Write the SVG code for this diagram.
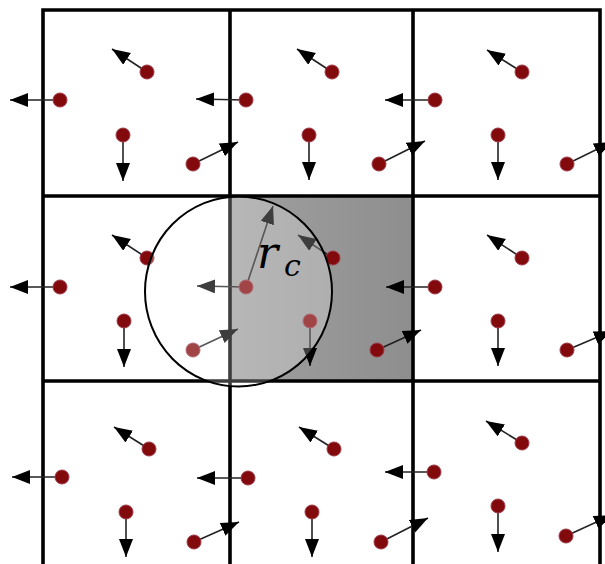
<svg xmlns="http://www.w3.org/2000/svg" width="605" height="564" viewBox="0 0 605 564">
<style>
.grid{stroke:#000;stroke-width:3.6;fill:none;stroke-linecap:square}
.arr{stroke:#222;stroke-width:1.6;fill:none;marker-end:url(#ah)}
.p{fill:#830a0c;stroke:#9c3a48;stroke-width:1}
.lbl{font-family:"DejaVu Serif","Liberation Serif",serif;font-style:italic;fill:#000}
</style>
<defs>
<marker id="ah" markerUnits="userSpaceOnUse" markerWidth="20" markerHeight="16" refX="18" refY="7" orient="auto">
<path d="M0,0 L18,7 L0,14 Z" fill="#000"/>
</marker>
<linearGradient id="gg" x1="0" y1="0" x2="1" y2="0">
<stop offset="0" stop-color="#a0a0a0"/>
<stop offset="1" stop-color="#8e8e8e"/>
</linearGradient>
</defs>
<rect width="605" height="564" fill="#fff"/>
<g id="home-cell">
<rect x="230" y="196" width="183" height="185" fill="url(#gg)"/>
</g>
<g id="grid">
<path class="grid" d="M43,10 H600 M43,196 H600 M43,381 H600 M43,10 V570 M230,10 V570 M413,10 V570 M600,10 V570"/>
</g>
<g id="connectors">
<line class="arr" x1="147" y1="72" x2="112" y2="49"/>
<line class="arr" x1="60" y1="100" x2="10" y2="100"/>
<line class="arr" x1="123" y1="135" x2="123" y2="181"/>
<line class="arr" x1="193" y1="164" x2="238" y2="142"/>
<line class="arr" x1="332" y1="72" x2="297" y2="49"/>
<line class="arr" x1="246" y1="100" x2="196" y2="99"/>
<line class="arr" x1="309" y1="135" x2="309" y2="180"/>
<line class="arr" x1="379" y1="164" x2="425" y2="141"/>
<line class="arr" x1="522" y1="72" x2="487" y2="50"/>
<line class="arr" x1="435" y1="100" x2="385" y2="100"/>
<line class="arr" x1="498" y1="135" x2="498" y2="180"/>
<line class="arr" x1="567" y1="164" x2="612" y2="142"/>
<line class="arr" x1="147" y1="258" x2="112" y2="235"/>
<line class="arr" x1="60" y1="287" x2="10" y2="287"/>
<line class="arr" x1="124" y1="321" x2="124" y2="367"/>
<line class="arr" x1="193" y1="350" x2="238" y2="329"/>
<line class="arr" x1="333" y1="258" x2="298" y2="235"/>
<line class="arr" x1="246" y1="287" x2="197" y2="286"/>
<line class="arr" x1="310" y1="321" x2="310" y2="366"/>
<line class="arr" x1="377" y1="350" x2="421" y2="330"/>
<line class="arr" x1="522" y1="258" x2="487" y2="235"/>
<line class="arr" x1="435" y1="287" x2="386" y2="287"/>
<line class="arr" x1="498" y1="321" x2="498" y2="366"/>
<line class="arr" x1="567" y1="350" x2="612" y2="331"/>
<line class="arr" x1="149" y1="449" x2="114" y2="427"/>
<line class="arr" x1="62" y1="477" x2="12" y2="477"/>
<line class="arr" x1="126" y1="512" x2="126" y2="557"/>
<line class="arr" x1="194" y1="542" x2="239" y2="522"/>
<line class="arr" x1="334" y1="449" x2="299" y2="427"/>
<line class="arr" x1="248" y1="478" x2="197" y2="478"/>
<line class="arr" x1="312" y1="512" x2="312" y2="557"/>
<line class="arr" x1="381" y1="542" x2="428" y2="518"/>
<line class="arr" x1="522" y1="443" x2="486" y2="421"/>
<line class="arr" x1="434" y1="472" x2="385" y2="472"/>
<line class="arr" x1="498" y1="506" x2="498" y2="552"/>
<line class="arr" x1="566" y1="536" x2="612" y2="515"/>
<line class="arr" x1="246" y1="287" x2="273" y2="206"/>
</g>
<g id="particles">
<g id="p-r1c1"><circle class="p" cx="147" cy="72" r="7"/><circle class="p" cx="60" cy="100" r="7"/><circle class="p" cx="123" cy="135" r="7"/><circle class="p" cx="193" cy="164" r="7"/></g>
<g id="p-r1c2"><circle class="p" cx="332" cy="72" r="7"/><circle class="p" cx="246" cy="100" r="7"/><circle class="p" cx="309" cy="135" r="7"/><circle class="p" cx="379" cy="164" r="7"/></g>
<g id="p-r1c3"><circle class="p" cx="522" cy="72" r="7"/><circle class="p" cx="435" cy="100" r="7"/><circle class="p" cx="498" cy="135" r="7"/><circle class="p" cx="567" cy="164" r="7"/></g>
<g id="p-r2c1"><circle class="p" cx="147" cy="258" r="7"/><circle class="p" cx="60" cy="287" r="7"/><circle class="p" cx="124" cy="321" r="7"/><circle class="p" cx="193" cy="350" r="7"/></g>
<g id="p-r2c2"><circle class="p" cx="333" cy="258" r="7"/><circle class="p" cx="246" cy="287" r="7"/><circle class="p" cx="310" cy="321" r="7"/><circle class="p" cx="377" cy="350" r="7"/></g>
<g id="p-r2c3"><circle class="p" cx="522" cy="258" r="7"/><circle class="p" cx="435" cy="287" r="7"/><circle class="p" cx="498" cy="321" r="7"/><circle class="p" cx="567" cy="350" r="7"/></g>
<g id="p-r3c1"><circle class="p" cx="149" cy="449" r="7"/><circle class="p" cx="62" cy="477" r="7"/><circle class="p" cx="126" cy="512" r="7"/><circle class="p" cx="194" cy="542" r="7"/></g>
<g id="p-r3c2"><circle class="p" cx="334" cy="449" r="7"/><circle class="p" cx="248" cy="478" r="7"/><circle class="p" cx="312" cy="512" r="7"/><circle class="p" cx="381" cy="542" r="7"/></g>
<g id="p-r3c3"><circle class="p" cx="522" cy="443" r="7"/><circle class="p" cx="434" cy="472" r="7"/><circle class="p" cx="498" cy="506" r="7"/><circle class="p" cx="566" cy="536" r="7"/></g>
</g>
<g id="cutoff-circle">
<ellipse cx="238.5" cy="291.5" rx="93.5" ry="95" fill="#fff" fill-opacity="0.24" stroke="#000" stroke-width="2"/>
</g>
<g id="label-rc">
<text class="lbl" x="257" y="268" font-size="44">r<tspan x="284" y="276" font-size="30">c</tspan></text>
</g>
</svg>
